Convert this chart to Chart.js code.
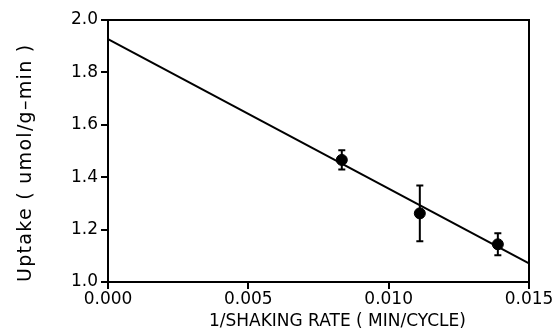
<!DOCTYPE html>
<html>
<head>
<meta charset="utf-8">
<script src="https://cdn.jsdelivr.net/npm/chart.js@4/dist/chart.umd.min.js"></script>
<style>
    html, body { margin: 0; padding: 0; background: #fff; }
    #wrap { width: 554px; height: 332px; }
</style>
</head>
<body>
<div id="wrap"><canvas id="uptakeChart" width="554" height="332"></canvas></div>
<script>
/* ---------- data ---------- */
const shakeInv = [0.00833, 0.01111, 0.01389];
const uptake = [1.466, 1.262, 1.144];
const uptakeErr = [0.037, 0.106, 0.042];
const fitX = [0.000, 0.015];
const fitY = [1.927, 1.071];
const xTicks = [0.000, 0.005, 0.010, 0.015];
const yTicks = [1.0, 1.2, 1.4, 1.6, 1.8, 2.0];

const FONT = "'DejaVu Sans', Verdana, sans-serif";

/* ---------- plugins ---------- */
// error bars + closed frame
const errorBars = {
    id: 'errorBars',
    afterLayout(chart) {
        // wider tracking on the y title, like the plotter lettering
        const s = chart.scales.y;
        if (s && !s._spaced) {
            const orig = s.drawTitle.bind(s);
            s.drawTitle = function () {
                chart.ctx.save();
                chart.ctx.letterSpacing = '1.3px';
                orig();
                chart.ctx.restore();
            };
            s._spaced = true;
        }
    },
    afterDatasetsDraw(chart) {
        const { ctx, scales: { x, y }, chartArea: a } = chart;
        ctx.save();
        ctx.strokeStyle = '#000';
        ctx.lineWidth = 2;
        shakeInv.forEach((v, i) => {
            const px = x.getPixelForValue(v);
            const top = y.getPixelForValue(uptake[i] + uptakeErr[i]);
            const bot = y.getPixelForValue(uptake[i] - uptakeErr[i]);
            ctx.beginPath();
            ctx.moveTo(px, top); ctx.lineTo(px, bot);
            ctx.moveTo(px - 3.5, top); ctx.lineTo(px + 3.5, top);
            ctx.moveTo(px - 3.5, bot); ctx.lineTo(px + 3.5, bot);
            ctx.stroke();
        });
        ctx.strokeRect(a.left, a.top, a.right - a.left, a.bottom - a.top);
        ctx.restore();
    }
};

/* ---------- chart ---------- */
new Chart(document.getElementById('uptakeChart'), {
    type: 'scatter',
    data: {
        datasets: [
            {
                type: 'line',
                data: fitX.map((v, i) => ({ x: v, y: fitY[i] })),
                borderColor: '#000',
                borderWidth: 2,
                pointRadius: 0,
                fill: false
            },
            {
                data: shakeInv.map((v, i) => ({ x: v, y: uptake[i] })),
                backgroundColor: '#000',
                borderColor: '#000',
                pointRadius: 5.5,
                pointHoverRadius: 5.5
            }
        ]
    },
    options: {
        responsive: false,
        animation: false,
        layout: { padding: { top: 20, right: 25, left: 0, bottom: 0 } },
        plugins: { legend: { display: false }, tooltip: { enabled: false } },
        scales: {
            x: {
                type: 'linear',
                min: 0, max: 0.015,
                afterBuildTicks: axis => { axis.ticks = xTicks.map(v => ({ value: v })); },
                afterFit: axis => { axis.height = 50; },
                grid: { drawOnChartArea: false, tickLength: 7, color: '#000', lineWidth: 2 },
                border: { color: '#000', width: 2 },
                ticks: { color: '#000', padding: 0, maxRotation: 0, font: { family: FONT, size: 17 }, callback: v => v.toFixed(3) },
                title: { display: true, text: '       1/SHAKING RATE ( MIN/CYCLE)', color: '#000', padding: 0, font: { family: FONT, size: 17 } }
            },
            y: {
                min: 1.0, max: 2.0,
                afterBuildTicks: axis => { axis.ticks = yTicks.map(v => ({ value: v })); },
                afterFit: axis => { axis.width = 108; },
                grid: { drawOnChartArea: false, tickLength: 7, color: '#000', lineWidth: 2 },
                border: { color: '#000', width: 2 },
                ticks: { color: '#000', padding: 3, font: { family: FONT, size: 17 }, callback: v => v.toFixed(1) },
                title: { display: true, align: 'start', text: 'Uptake ( umol/g\u2013min )', color: '#000', padding: { top: 15, bottom: 0 }, font: { family: FONT, size: 19 } }
            }
        }
    },
    plugins: [errorBars]
});
</script>
</body>
</html>
